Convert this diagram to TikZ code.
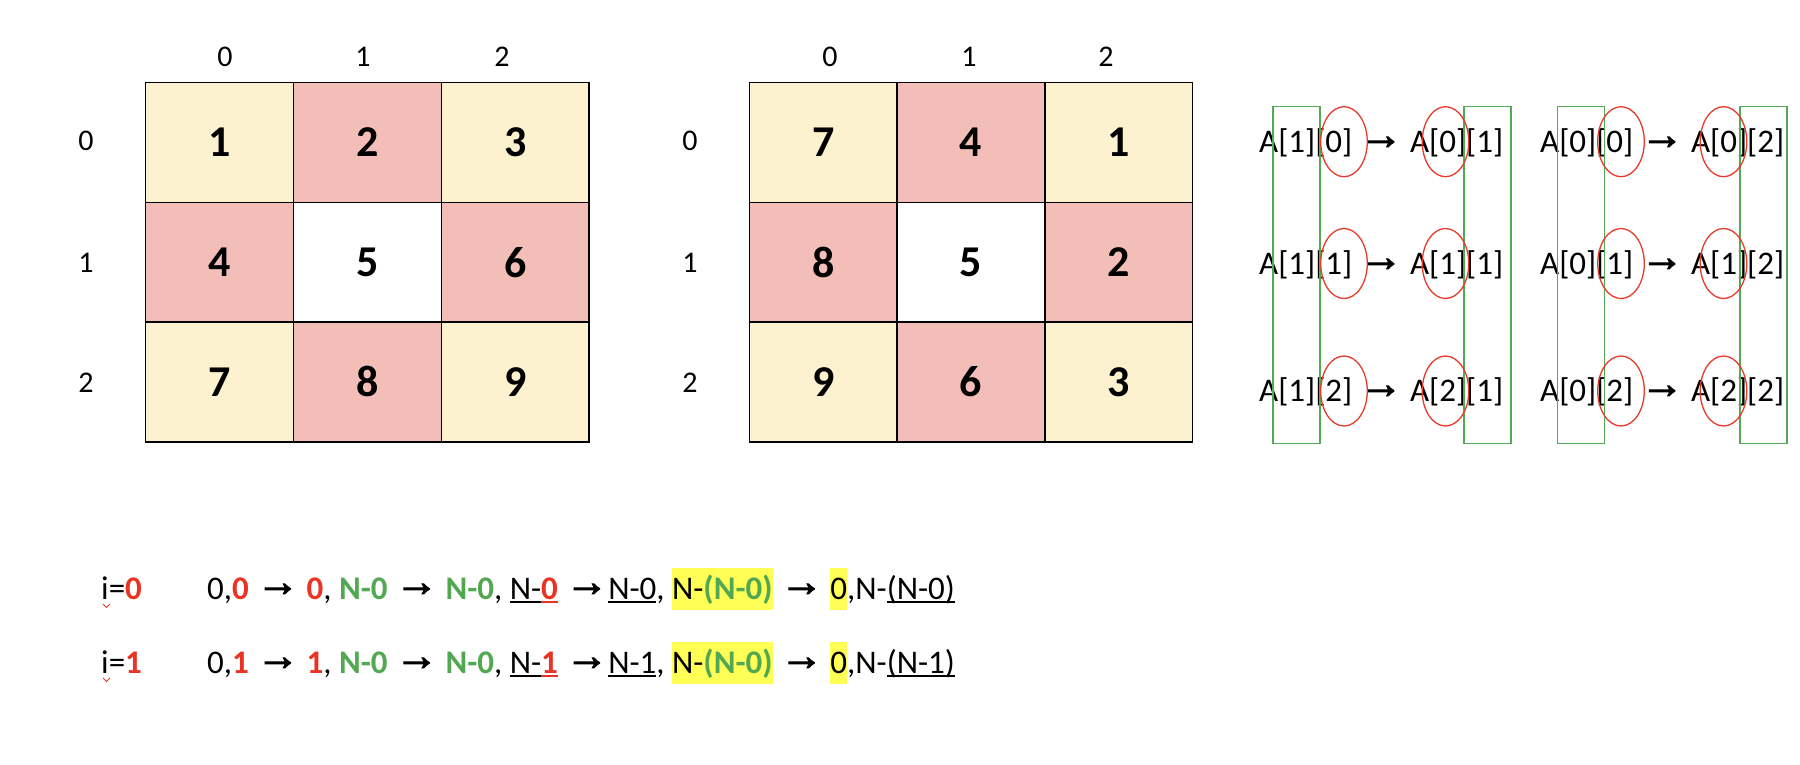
\documentclass[tikz,border=0pt]{standalone}
\usepackage{fontspec}
\usepackage{graphicx}
\setmainfont{Carlito}
\newfontfamily\arrfont[FakeBold=2.5]{Liberation Sans}
\usetikzlibrary{shapes.geometric}
\definecolor{cellY}{RGB}{253,242,208}
\definecolor{cellP}{RGB}{243,190,184}
\definecolor{cred}{RGB}{234,51,35}
\definecolor{cgreen}{RGB}{82,168,82}
\definecolor{eline}{RGB}{232,58,42}
\definecolor{gline}{RGB}{84,170,84}
\definecolor{hly}{RGB}{255,255,85}
\setlength{\fboxsep}{0pt}
\newcommand\arr{\raisebox{3pt}{\scalebox{1.3}{\arrfont →}}}
\newlength\ulw
\newcommand\ulx[1]{\settowidth{\ulw}{#1}\rlap{\rule[-4pt]{\ulw}{2pt}}#1}
\newcommand\R[1]{\textcolor{cred}{\textbf{#1}}}
\newcommand\G[1]{\textcolor{cgreen}{\textbf{#1}}}
\newcommand\hl[1]{\colorbox{hly}{\rule[-11pt]{0pt}{42pt}#1}}
\tikzset{
  cellbox/.style={draw=black, line width=1.4pt, inner sep=0pt, minimum height=119.7pt,
    minimum width=147.8pt, font=\fontsize{44}{48}\selectfont\bfseries},
  lab/.style={inner sep=0pt, font=\fontsize{30}{36}\selectfont},
  expr/.style={inner sep=0pt, anchor=base west, font=\fontsize{33}{40}\selectfont},
  gbox/.style={draw=gline, line width=1.5pt, minimum width=47pt, minimum height=337pt, inner sep=0pt},
  rell/.style={draw=eline, line width=1.3pt, ellipse, minimum width=46.6pt, minimum height=70pt, inner sep=0pt},
  squig/.style={draw=cred, line width=0.9pt}
}
\begin{document}
\begin{tikzpicture}[x=1pt,y=-1pt]
\path[use as bounding box] (0,0) rectangle (1800,764);
% grid 1
\node[cellbox, fill=cellY] (a00) at (219.6,142.55) {1};
\node[cellbox, fill=cellP] (a01) at (367.4,142.55) {2};
\node[cellbox, fill=cellY] (a02) at (515.2,142.55) {3};
\node[cellbox, fill=cellP] (a10) at (219.6,262.25) {4};
\node[cellbox, fill=white] (a11) at (367.4,262.25) {5};
\node[cellbox, fill=cellP] (a12) at (515.2,262.25) {6};
\node[cellbox, fill=cellY] (a20) at (219.6,381.95) {7};
\node[cellbox, fill=cellP] (a21) at (367.4,381.95) {8};
\node[cellbox, fill=cellY] (a22) at (515.2,381.95) {9};
\node[lab] (ac0) at (225,57) {0};
\node[lab] (ac1) at (363,57) {1};
\node[lab] (ac2) at (502,57) {2};
\node[lab] (ar0) at (86,141) {0};
\node[lab] (ar1) at (86,263) {1};
\node[lab] (ar2) at (86,383) {2};
% grid 2
\node[cellbox, fill=cellY] (b00) at (823.2,142.55) {7};
\node[cellbox, fill=cellP] (b01) at (971,142.55) {4};
\node[cellbox, fill=cellY] (b02) at (1118.8,142.55) {1};
\node[cellbox, fill=cellP] (b10) at (823.2,262.25) {8};
\node[cellbox, fill=white] (b11) at (971,262.25) {5};
\node[cellbox, fill=cellP] (b12) at (1118.8,262.25) {2};
\node[cellbox, fill=cellY] (b20) at (823.2,381.95) {9};
\node[cellbox, fill=cellP] (b21) at (971,381.95) {6};
\node[cellbox, fill=cellY] (b22) at (1118.8,381.95) {3};
\node[lab] (bc0) at (830,57) {0};
\node[lab] (bc1) at (969,57) {1};
\node[lab] (bc2) at (1106,57) {2};
\node[lab] (br0) at (690,141) {0};
\node[lab] (br1) at (690,263) {1};
\node[lab] (br2) at (690,383) {2};
% right mapping text
\node[expr] (t1a) at (1259,152) {A[1][0] \arr{} A[0][1]};
\node[expr] (t2a) at (1259,274) {A[1][1] \arr{} A[1][1]};
\node[expr] (t3a) at (1259,401) {A[1][2] \arr{} A[2][1]};
\node[expr] (t1b) at (1540,152) {A[0][0] \arr{} A[0][2]};
\node[expr] (t2b) at (1540,274) {A[0][1] \arr{} A[1][2]};
\node[expr] (t3b) at (1540,401) {A[0][2] \arr{} A[2][2]};
% green boxes
\node[gbox] (g1) at (1296.5,275.2) {};
\node[gbox] (g2) at (1487.6,275.2) {};
\node[gbox] (g3) at (1581,275.2) {};
\node[gbox] (g4) at (1763.7,275.2) {};
% red ellipses
\foreach \yy/\k in {141.7/1,263.5/2,391/3}{
  \node[rell] (e1\k) at (1344,\yy) {};
  \node[rell] (e2\k) at (1445.5,\yy) {};
  \node[rell] (e3\k) at (1621,\yy) {};
  \node[rell] (e4\k) at (1723.5,\yy) {};
}
% bottom lines
\node[expr] (i0) at (101,599) {i=\R{0}};
\node[expr] (l0) at (207,599) {0,\R{0} \arr{} \R{0}, \G{N-0} \arr{} \G{N-0}, \ulx{N-}\textcolor{cred}{\ulx{\textbf{0}}} \arr\ulx{N-0}, \hl{N-\G{(N-0)}} \arr{} \hl{0},N-\ulx{(N-0)}};
\node[expr] (i1) at (101,673) {i=\R{1}};
\node[expr] (l1) at (207,673) {0,\R{1} \arr{} \R{1}, \G{N-0} \arr{} \G{N-0}, \ulx{N-}\textcolor{cred}{\ulx{\textbf{1}}} \arr\ulx{N-1}, \hl{N-\G{(N-0)}} \arr{} \hl{0},N-\ulx{(N-1)}};
\coordinate (s0) at (103,604);
\draw[squig] (s0) -- ++(3.5,3.5) -- ++(3.5,-3.5);
\coordinate (s1) at (103,678);
\draw[squig] (s1) -- ++(3.5,3.5) -- ++(3.5,-3.5);
\end{tikzpicture}
\end{document}
